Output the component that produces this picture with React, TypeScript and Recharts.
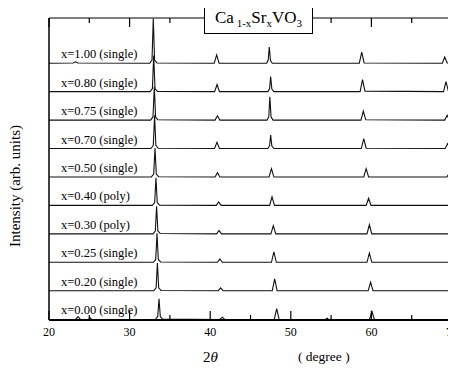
import React from 'react';
import { LineChart, Line, XAxis, YAxis } from 'recharts';

// 2-theta tick values (every 5 degrees; labelled every 10)
const thetaTicks = [20, 25, 30, 35, 40, 45, 50, 55, 60, 65, 70];

// Composition labels, top to bottom
const compositionLabels = [
  'x=1.00 (single)', 'x=0.80 (single)', 'x=0.75 (single)', 'x=0.70 (single)', 'x=0.50 (single)',
  'x=0.40 (poly)', 'x=0.30 (poly)', 'x=0.25 (single)', 'x=0.20 (single)', 'x=0.00 (single)',
];

// Diffraction patterns: [2theta, intensity (arb.)]
const s100: [number, number][] = [
  [20, 0.03], [23.0, 0.04], [23.3, 0.08], [23.6, 0.04], [32.5, 0.03], [32.78, 0.14], [32.94, 1.6], [33.1, 0.14], [33.4, 0.04],
  [40.5, 0.03], [40.8, 0.32], [41.1, 0.03], [47.0, 0.03], [47.2, 0.14], [47.33, 0.6], [47.48, 0.12], [47.7, 0.03],
  [58.5, 0.03], [58.8, 0.42], [59.1, 0.04], [68.8, 0.03], [69.1, 0.25], [69.4, 0.04], [70, 0.03],
];
const s080: [number, number][] = [
  [20, 0.03], [32.55, 0.03], [32.83, 0.14], [32.99, 1.3], [33.15, 0.14], [33.45, 0.04],
  [40.55, 0.03], [40.85, 0.28], [41.15, 0.03], [47.15, 0.03], [47.37, 0.13], [47.5, 0.56], [47.65, 0.12], [47.9, 0.03],
  [58.6, 0.03], [58.9, 0.45], [59.2, 0.05], [68.95, 0.03], [69.25, 0.38], [69.55, 0.05], [70, 0.03],
];
const s075: [number, number][] = [
  [20, 0.03], [32.6, 0.03], [32.9, 0.14], [33.07, 1.2], [33.22, 0.14], [33.5, 0.04],
  [40.6, 0.03], [40.9, 0.18], [41.2, 0.03], [47.05, 0.03], [47.27, 0.15], [47.4, 0.85], [47.55, 0.14], [47.8, 0.03],
  [58.7, 0.03], [59.0, 0.35], [59.3, 0.04], [69.1, 0.03], [69.4, 0.2], [69.7, 0.03], [70, 0.03],
];
const s070: [number, number][] = [
  [20, 0.03], [32.65, 0.03], [32.94, 0.14], [33.1, 1.2], [33.26, 0.14], [33.55, 0.04],
  [40.54, 0.03], [40.84, 0.25], [41.14, 0.03], [47.15, 0.03], [47.37, 0.13], [47.5, 0.5], [47.65, 0.12], [47.9, 0.03],
  [58.75, 0.03], [59.05, 0.38], [59.35, 0.04], [69.15, 0.03], [69.45, 0.2], [69.75, 0.03], [70, 0.03],
];
const s050: [number, number][] = [
  [20, 0.03], [32.7, 0.03], [32.99, 0.13], [33.15, 1.05], [33.31, 0.13], [33.6, 0.04],
  [40.6, 0.03], [40.9, 0.18], [41.2, 0.03], [47.3, 0.03], [47.6, 0.32], [47.9, 0.03],
  [59.05, 0.03], [59.35, 0.32], [59.65, 0.03], [69.37, 0.03], [69.67, 0.18], [69.95, 0.03], [70, 0.03],
];
const s040: [number, number][] = [
  [20, 0.03], [32.82, 0.03], [33.11, 0.13], [33.27, 1.0], [33.43, 0.13], [33.72, 0.04],
  [40.75, 0.03], [41.05, 0.15], [41.35, 0.03], [47.37, 0.03], [47.67, 0.33], [47.97, 0.03],
  [59.35, 0.03], [59.65, 0.28], [59.95, 0.03], [69.6, 0.03], [69.9, 0.15], [70, 0.08],
];
const s030: [number, number][] = [
  [20, 0.03], [32.9, 0.03], [33.19, 0.13], [33.35, 1.0], [33.51, 0.13], [33.8, 0.04],
  [40.8, 0.03], [41.1, 0.15], [41.4, 0.03], [47.53, 0.03], [47.83, 0.32], [48.13, 0.03],
  [59.45, 0.03], [59.75, 0.35], [60.05, 0.03], [69.7, 0.03], [69.95, 0.15], [70, 0.1],
];
const s025: [number, number][] = [
  [20, 0.03], [32.95, 0.03], [33.24, 0.13], [33.4, 1.05], [33.56, 0.13], [33.85, 0.04],
  [40.9, 0.03], [41.2, 0.15], [41.5, 0.03], [47.6, 0.03], [47.9, 0.4], [48.2, 0.03],
  [59.45, 0.03], [59.75, 0.35], [60.05, 0.03], [69.75, 0.03], [70, 0.12],
];
const s020: [number, number][] = [
  [20, 0.03], [33.0, 0.03], [33.29, 0.13], [33.45, 1.0], [33.61, 0.13], [33.9, 0.04],
  [41.0, 0.03], [41.3, 0.13], [41.6, 0.03], [47.7, 0.03], [48.0, 0.45], [48.3, 0.03],
  [59.6, 0.03], [59.9, 0.33], [60.2, 0.03], [69.8, 0.03], [70, 0.1],
];
const s000: [number, number][] = [
  [20, 0.02], [23.3, 0.02], [23.6, 0.12], [23.9, 0.02], [24.9, 0.02], [25.1, 0.08], [25.3, 0.02],
  [33.2, 0.02], [33.49, 0.12], [33.65, 0.75], [33.81, 0.12], [34.1, 0.03],
  [41.2, 0.02], [41.5, 0.1], [41.8, 0.02], [47.95, 0.02], [48.25, 0.4], [48.55, 0.02],
  [54.3, 0.02], [54.5, 0.06], [54.7, 0.02], [59.77, 0.02], [60.07, 0.3], [60.37, 0.02], [70, 0.02],
];

const patterns = [s100, s080, s075, s070, s050, s040, s030, s025, s020, s000];

const FONT = 'Liberation Serif, Times New Roman, serif';
const Y_TOP = 10.62;

const series = patterns.map((pts, i) => {
  const level = patterns.length - 1 - i;
  return {
    label: compositionLabels[i],
    data: pts.map(([t, v]) => ({ t, v: v + level })),
  };
});

const BottomTick = (props: any) => {
  const { x, y, payload } = props;
  const major = payload.value % 10 === 0;
  return (
    <g>
      <line x1={x} x2={x} y1={y} y2={y - (major ? 9 : 5)} stroke="#000" strokeWidth={1.2} />
      {major && (
        <text x={x} y={y + 16} textAnchor="middle" fontSize={12} fontFamily={FONT} fill="#000">
          {payload.value}
        </text>
      )}
    </g>
  );
};

const TopTick = (props: any) => {
  const { x, y, payload } = props;
  const major = payload.value % 10 === 0;
  return <line x1={x} x2={x} y1={y} y2={y + (major ? 9 : 5)} stroke="#000" strokeWidth={1.2} />;
};

const makeLabel = (text: string) => (props: any) => {
  const { x, y, index } = props;
  if (index !== 0) return <g />;
  return (
    <text x={x + 12} y={y - 5} fontSize={12.5} fontFamily={FONT} fill="#000">
      {text}
    </text>
  );
};

export default function App() {
  return (
    <div style={{ position: 'relative', width: 448, height: 362, fontFamily: FONT }}>
      <LineChart width={448} height={362} margin={{ top: 9, right: 3, bottom: 0, left: 0 }}>
        <XAxis
          xAxisId="bottom"
          dataKey="t"
          type="number"
          domain={[20, 70]}
          ticks={thetaTicks}
          allowDataOverflow
          height={50}
          tickSize={0}
          tickMargin={0}
          tickLine={false}
          tick={<BottomTick />}
          axisLine={{ stroke: '#000', strokeWidth: 2 }}
          interval={0}
        />
        <XAxis
          xAxisId="top"
          orientation="top"
          dataKey="t"
          type="number"
          domain={[20, 70]}
          ticks={thetaTicks}
          allowDataOverflow
          height={1}
          tickSize={0}
          tickMargin={0}
          tickLine={false}
          tick={<TopTick />}
          axisLine={{ stroke: '#000', strokeWidth: 1 }}
          interval={0}
        />
        <YAxis
          yAxisId="left"
          type="number"
          domain={[0, Y_TOP]}
          allowDataOverflow
          width={41}
          tick={false}
          tickLine={false}
          axisLine={{ stroke: '#000', strokeWidth: 1.5 }}
        />
        <YAxis
          yAxisId="right"
          orientation="right"
          type="number"
          domain={[0, Y_TOP]}
          allowDataOverflow
          width={1}
          tick={false}
          tickLine={false}
          axisLine={{ stroke: '#000', strokeWidth: 2 }}
        />
        {series.map((s) => (
          <Line
            key={s.label}
            xAxisId="bottom"
            yAxisId="left"
            data={s.data}
            dataKey="v"
            type="linear"
            stroke="#111"
            strokeWidth={1.1}
            dot={false}
            activeDot={false}
            isAnimationActive={false}
            label={makeLabel(s.label)}
          />
        ))}
      </LineChart>

      <div
        style={{
          position: 'absolute', left: 196, top: -3, width: 109, height: 29, zIndex: 2,
          border: '1px solid #000', background: '#fff', boxSizing: 'border-box',
          display: 'flex', alignItems: 'center', justifyContent: 'center',
          fontSize: 17, lineHeight: 1, whiteSpace: 'nowrap', color: '#000',
        }}
      >
        <span>
          Ca<sub style={{ fontSize: 11 }}>&nbsp;1-x</sub>Sr<sub style={{ fontSize: 11 }}>x</sub>VO<sub style={{ fontSize: 11 }}>3</sub>
        </span>
      </div>

      <div
        style={{
          position: 'absolute', left: 7, top: 178, zIndex: 2,
          transform: 'translate(-50%, -50%) rotate(-90deg)',
          fontSize: 15, whiteSpace: 'nowrap', color: '#000',
        }}
      >
        Intensity (arb. units)
      </div>

      <div
        style={{
          position: 'absolute', left: 195, top: 349, zIndex: 2,
          transform: 'translateY(-50%)',
          fontSize: 15, whiteSpace: 'nowrap', color: '#000',
        }}
      >
        2<i>θ</i>
      </div>
      <div
        style={{
          position: 'absolute', left: 290, top: 349, zIndex: 2,
          transform: 'translateY(-50%)',
          fontSize: 13.5, whiteSpace: 'nowrap', color: '#000',
        }}
      >
        ( degree )
      </div>
    </div>
  );
}
